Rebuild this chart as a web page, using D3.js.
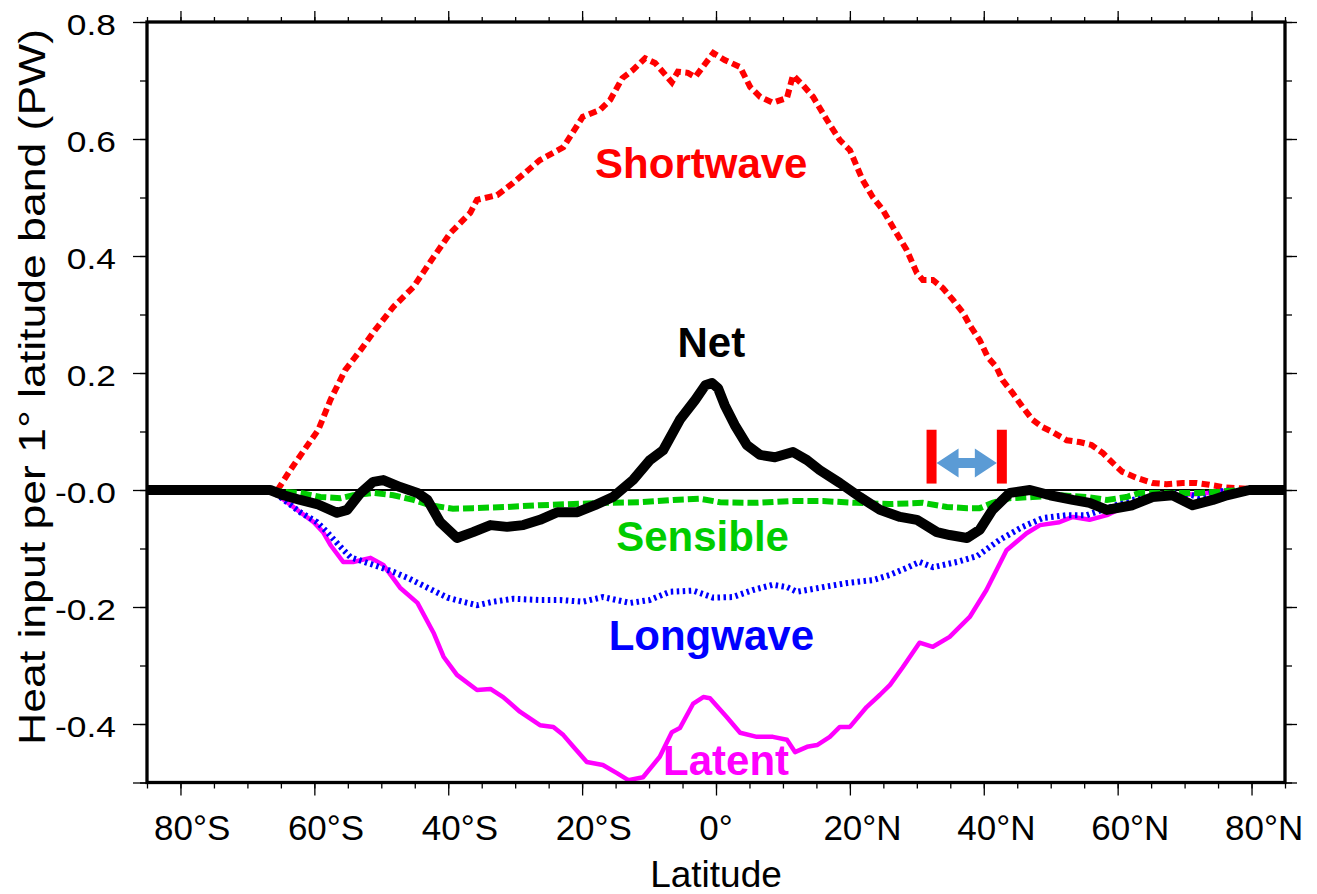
<!DOCTYPE html>
<html>
<head>
<meta charset="utf-8">
<script src="https://cdn.jsdelivr.net/npm/d3@7"></script>
<style>
  body { margin: 0; background: #fff; }
  svg { display: block; font-family: "Liberation Sans", Arial, Helvetica, sans-serif; }
</style>
</head>
<body>
<svg id="chart" width="1317" height="894"></svg>
<script>
// latitude (deg, S negative) , heat input per 1 deg band (PW)
const shortwave = [
  [-65.5, 0], [-63.6, 0.034], [-61.3, 0.072], [-59.4, 0.103], [-57.6, 0.154], [-55.4, 0.205],
  [-53.1, 0.239], [-50.9, 0.274], [-48.2, 0.313], [-45.2, 0.347], [-42.2, 0.398], [-39.7, 0.439],
  [-36.7, 0.474], [-35.7, 0.496], [-32.7, 0.504], [-30.3, 0.525], [-26.3, 0.564], [-22.8, 0.586],
  [-19.9, 0.638], [-17.3, 0.650], [-15.8, 0.667], [-14.0, 0.704], [-12.4, 0.718], [-10.6, 0.738],
  [-9.1, 0.730], [-6.6, 0.697], [-5.7, 0.715], [-4.2, 0.713], [-3.1, 0.706], [-0.4, 0.747],
  [1.3, 0.735], [3.6, 0.723], [5.1, 0.689], [6.6, 0.672], [8.5, 0.662], [10.6, 0.670],
  [11.5, 0.709], [13.0, 0.692], [14.5, 0.672], [16.6, 0.632], [18.5, 0.598], [20.0, 0.581],
  [21.9, 0.530], [23.4, 0.501], [24.9, 0.479], [26.4, 0.450], [28.5, 0.410], [30.0, 0.371],
  [30.9, 0.359], [32.4, 0.359], [33.9, 0.345], [35.4, 0.325], [36.9, 0.303], [37.9, 0.282],
  [39.4, 0.256], [40.6, 0.227], [41.9, 0.210], [42.8, 0.188], [44.3, 0.166], [45.8, 0.142],
  [47.3, 0.120], [48.7, 0.108], [50.3, 0.099], [52.4, 0.085], [54.3, 0.082], [56.1, 0.077],
  [57.8, 0.063], [59.3, 0.046], [60.7, 0.031], [62.8, 0.021], [65.2, 0.012], [67.3, 0.010],
  [69.7, 0.012], [71.8, 0.012], [73.7, 0.009], [75.7, 0.005], [77.8, 0.003], [79.3, 0.002]
];

const net = [
  [-85, 0], [-66.6, 0], [-64.6, -0.009], [-62.1, -0.017], [-59.6, -0.024], [-56.6, -0.039],
  [-55.1, -0.034], [-53.1, -0.005], [-51.2, 0.014], [-49.7, 0.017], [-47.2, 0.005], [-44.6, -0.005],
  [-43.1, -0.017], [-41.2, -0.055], [-38.7, -0.082], [-36.3, -0.072], [-33.7, -0.060], [-31.2, -0.063],
  [-28.8, -0.060], [-26.3, -0.051], [-23.7, -0.038], [-20.7, -0.038], [-18.1, -0.026], [-15.4, -0.012],
  [-12.4, 0.017], [-9.9, 0.051], [-7.9, 0.068], [-5.4, 0.120], [-3.1, 0.154], [-1.6, 0.179],
  [-0.6, 0.183], [0.3, 0.174], [1.3, 0.145], [2.8, 0.111], [4.6, 0.077], [6.6, 0.060],
  [8.8, 0.056], [11.5, 0.065], [13.6, 0.051], [15.5, 0.034], [18.5, 0.012], [21.5, -0.012],
  [24.5, -0.034], [27.5, -0.046], [30.0, -0.051], [33.0, -0.072], [34.9, -0.077], [37.5, -0.082],
  [39.4, -0.068], [41.3, -0.034], [43.9, -0.005], [46.9, 0], [49.9, -0.009], [53.3, -0.017],
  [55.8, -0.022], [58.4, -0.034], [62.2, -0.026], [65.2, -0.012], [68.2, -0.009], [71.2, -0.026],
  [74.2, -0.017], [76.3, -0.009], [79.7, 0], [85, 0]
];

const sensible = [
  [-66.5, 0], [-64.6, -0.003], [-62.1, -0.005], [-59.1, -0.012], [-56.1, -0.014], [-54.2, -0.009],
  [-51.2, -0.005], [-48.2, -0.009], [-45.2, -0.017], [-42.7, -0.026], [-39.3, -0.032], [-36.3, -0.031],
  [-31.2, -0.029], [-26.3, -0.026], [-21.3, -0.024], [-16.3, -0.022], [-11.3, -0.021], [-6.4, -0.017],
  [-2.4, -0.015], [0.6, -0.021], [6.1, -0.022], [11.0, -0.019], [16.0, -0.019], [21.0, -0.022],
  [26.0, -0.024], [30.9, -0.022], [34.5, -0.029], [37.5, -0.031], [39.4, -0.031], [41.3, -0.022],
  [43.9, -0.014], [47.3, -0.012], [51.3, -0.009], [55.4, -0.012], [58.4, -0.017], [61.3, -0.012],
  [63.3, -0.005], [67.3, -0.005], [72.2, -0.005], [75.2, -0.003], [78.2, 0]
];

const longwave = [
  [-66.5, 0], [-65.1, -0.012], [-62.1, -0.038], [-59.6, -0.055], [-58.1, -0.072], [-56.1, -0.097],
  [-54.6, -0.115], [-51.2, -0.128], [-48.2, -0.140], [-46.1, -0.150], [-43.1, -0.167], [-40.1, -0.184],
  [-37.8, -0.191], [-35.7, -0.197], [-33.3, -0.191], [-30.3, -0.186], [-26.3, -0.188], [-23.3, -0.188],
  [-19.9, -0.191], [-16.9, -0.183], [-12.8, -0.193], [-9.9, -0.188], [-6.9, -0.174], [-3.4, -0.172],
  [-0.4, -0.184], [2.5, -0.183], [5.5, -0.171], [8.5, -0.162], [10.6, -0.166], [12.1, -0.174],
  [16.0, -0.166], [19.6, -0.159], [23.4, -0.154], [26.0, -0.145], [28.5, -0.133], [30.4, -0.123],
  [32.4, -0.132], [36.0, -0.123], [39.0, -0.113], [42.4, -0.085], [45.8, -0.063], [48.8, -0.048],
  [52.4, -0.043], [55.4, -0.043], [58.4, -0.031], [62.2, -0.017], [66.3, -0.009], [69.7, -0.005],
  [72.2, -0.012], [74.8, -0.003], [77.2, 0]
];

const latent = [
  [-66.5, 0], [-65.1, -0.012], [-62.1, -0.038], [-60.1, -0.055], [-58.7, -0.072], [-57.6, -0.094],
  [-55.7, -0.123], [-54.2, -0.123], [-51.6, -0.116], [-49.7, -0.128], [-47.2, -0.167], [-44.6, -0.193],
  [-42.2, -0.244], [-40.7, -0.285], [-38.7, -0.316], [-35.7, -0.342], [-33.7, -0.340], [-31.8, -0.354],
  [-29.3, -0.379], [-26.3, -0.402], [-24.3, -0.405], [-22.8, -0.419], [-21.3, -0.439], [-19.3, -0.465],
  [-16.9, -0.470], [-14.8, -0.484], [-13.1, -0.496], [-10.9, -0.491], [-8.4, -0.456], [-6.6, -0.414],
  [-5.4, -0.407], [-3.4, -0.365], [-1.9, -0.354], [-0.9, -0.356], [1.6, -0.388], [3.6, -0.415],
  [6.1, -0.422], [8.5, -0.422], [10.6, -0.427], [11.8, -0.448], [13.6, -0.439], [15.1, -0.436],
  [17.0, -0.422], [18.5, -0.405], [20.0, -0.405], [22.5, -0.371], [24.5, -0.350], [26.0, -0.333],
  [27.9, -0.303], [30.4, -0.261], [32.4, -0.268], [34.9, -0.251], [37.9, -0.217], [40.4, -0.171],
  [43.4, -0.103], [46.4, -0.074], [48.4, -0.060], [51.3, -0.055], [53.3, -0.046], [55.8, -0.051],
  [58.4, -0.043], [62.2, -0.022], [66.3, -0.010], [72.2, -0.007], [77.2, 0]
];

const xTickValues = [-80, -60, -40, -20, 0, 20, 40, 60, 80];
const xTickNums = ["80°", "60°", "40°", "20°", "0°", "20°", "40°", "60°", "80°"];
const xTickHemis = ["S", "S", "S", "S", "", "N", "N", "N", "N"];
const yTickValues = [0.8, 0.6, 0.4, 0.2, 0, -0.2, -0.4];
const yTickLabels = ["0.8", "0.6", "0.4", "0.2", "-0.0", "-0.2", "-0.4"];

const seriesLabels = [
  { text: "Shortwave", lat: -2.2, val: 0.534, color: "#ff0000" },
  { text: "Net", lat: -0.7, val: 0.227, color: "#000000" },
  { text: "Sensible", lat: -2.0, val: -0.105, color: "#00cc00" },
  { text: "Longwave", lat: -0.7, val: -0.273, color: "#0000ff" },
  { text: "Latent", lat: 1.5, val: -0.487, color: "#ff00ff" }
];

// 40N band marker
const bandLat = [32.2, 42.7];
const bandVal = [0.103, 0.011];
const arrowVal = 0.046;

const svg = d3.select("#chart");
const margin = { top: 22, right: 32, bottom: 111.5, left: 147 };
const W = 1317, H = 894;

const x = d3.scaleLinear().domain([-85, 85]).range([margin.left, W - margin.right]);
const y = d3.scaleLinear().domain([-0.5, 0.8]).range([H - margin.bottom, margin.top]);

const minorX = d3.range(-85, 86, 5);
const minorY = d3.range(-5, 9).map(d => d / 10);

function styleAxis(g) {
  g.select(".domain").remove();
  g.selectAll(".tick line").attr("stroke", "#000").attr("stroke-width", 1.3);
  g.selectAll(".tick text").remove();
}

// minor + major ticks on all four sides
const pBottom = H - margin.bottom, pTop = margin.top, pLeft = margin.left, pRight = W - margin.right;
svg.append("g").attr("transform", `translate(0,${pBottom})`).call(d3.axisBottom(x).tickValues(minorX).tickSize(6)).call(styleAxis);
svg.append("g").attr("transform", `translate(0,${pBottom})`).call(d3.axisBottom(x).tickValues(xTickValues).tickSize(13)).call(styleAxis);
svg.append("g").attr("transform", `translate(0,${pTop})`).call(d3.axisTop(x).tickValues(minorX).tickSize(5)).call(styleAxis);
svg.append("g").attr("transform", `translate(0,${pTop})`).call(d3.axisTop(x).tickValues(xTickValues).tickSize(11)).call(styleAxis);
svg.append("g").attr("transform", `translate(${pLeft},0)`).call(d3.axisLeft(y).tickValues(minorY).tickSize(7)).call(styleAxis);
svg.append("g").attr("transform", `translate(${pLeft},0)`).call(d3.axisLeft(y).tickValues(yTickValues.concat([-0.5])).tickSize(14)).call(styleAxis);
svg.append("g").attr("transform", `translate(${pRight},0)`).call(d3.axisRight(y).tickValues(minorY).tickSize(7)).call(styleAxis);
svg.append("g").attr("transform", `translate(${pRight},0)`).call(d3.axisRight(y).tickValues(yTickValues.concat([-0.5])).tickSize(12)).call(styleAxis);

// zero line
svg.append("line")
  .attr("x1", pLeft).attr("x2", pRight)
  .attr("y1", y(0)).attr("y2", y(0))
  .attr("stroke", "#000").attr("stroke-width", 2);

const line = d3.line().x(d => x(d[0])).y(d => y(d[1]));
const plot = svg.append("g");

plot.append("path").datum(shortwave).attr("d", line)
  .attr("fill", "none").attr("stroke", "#ff0000").attr("stroke-width", 6)
  .attr("stroke-dasharray", "8,4.5");
plot.append("path").datum(latent).attr("d", line)
  .attr("fill", "none").attr("stroke", "#ff00ff").attr("stroke-width", 4.5)
  .attr("stroke-linejoin", "round");
plot.append("path").datum(longwave).attr("d", line)
  .attr("fill", "none").attr("stroke", "#0000ff").attr("stroke-width", 6)
  .attr("stroke-dasharray", "2.5,3.5");
plot.append("path").datum(sensible).attr("d", line)
  .attr("fill", "none").attr("stroke", "#00cc00").attr("stroke-width", 6)
  .attr("stroke-dasharray", "11,4");
plot.append("path").datum(net).attr("d", line)
  .attr("fill", "none").attr("stroke", "#000").attr("stroke-width", 10)
  .attr("stroke-linejoin", "round");

// band marker: two red bars and a double arrow
plot.selectAll(".bar").data(bandLat).join("rect")
  .attr("class", "bar")
  .attr("x", d => x(d) - 5).attr("width", 10)
  .attr("y", y(bandVal[0])).attr("height", y(bandVal[1]) - y(bandVal[0]))
  .attr("fill", "#ff0000");
{
  const x1 = x(bandLat[0]) + 5, x2 = x(bandLat[1]) - 5, cy = y(arrowVal);
  const hl = 22, hh = 14.5, sh = 5;
  const pts = [
    [x1, cy], [x1 + hl, cy - hh], [x1 + hl, cy - sh], [x2 - hl, cy - sh], [x2 - hl, cy - hh],
    [x2, cy], [x2 - hl, cy + hh], [x2 - hl, cy + sh], [x1 + hl, cy + sh], [x1 + hl, cy + hh]
  ];
  plot.append("path").attr("d", "M" + pts.join("L") + "Z").attr("fill", "#5b9bd5");
}

// frame
svg.append("rect")
  .attr("x", pLeft).attr("y", pTop).attr("width", pRight - pLeft).attr("height", pBottom - pTop)
  .attr("fill", "none").attr("stroke", "#000").attr("stroke-width", 3.3);

// series labels
svg.selectAll(".slabel").data(seriesLabels).join("text")
  .attr("class", "slabel")
  .attr("x", d => x(d.lat)).attr("y", d => y(d.val))
  .attr("text-anchor", "middle")
  .attr("font-size", 42).attr("font-weight", "bold")
  .attr("fill", d => d.color)
  .text(d => d.text);

// x tick labels: number+degree centred on the tick, hemisphere letter hangs right
xTickValues.forEach((v, i) => {
  const t = svg.append("text").attr("font-size", 35).attr("y", 840).text(xTickNums[i]);
  const w = t.node().getComputedTextLength();
  t.attr("x", x(v) - w / 2);
  if (xTickHemis[i]) t.append("tspan").text(xTickHemis[i]);
});

// y tick labels (wide face)
yTickValues.forEach((v, i) => {
  svg.append("g").attr("transform", `translate(116,${y(v) + 13})`)
    .append("text")
    .attr("transform", "scale(1.22,1)")
    .attr("text-anchor", "end")
    .attr("font-size", 29)
    .text(yTickLabels[i]);
});

// axis titles
svg.append("text")
  .attr("x", x(0)).attr("y", 887)
  .attr("text-anchor", "middle").attr("font-size", 37)
  .text("Latitude");

svg.append("text")
  .attr("transform", "translate(45,387) rotate(-90)")
  .attr("text-anchor", "middle").attr("font-size", 37)
  .attr("textLength", 716).attr("lengthAdjust", "spacingAndGlyphs")
  .text("Heat input per 1° latitude band (PW)");
</script>
</body>
</html>
